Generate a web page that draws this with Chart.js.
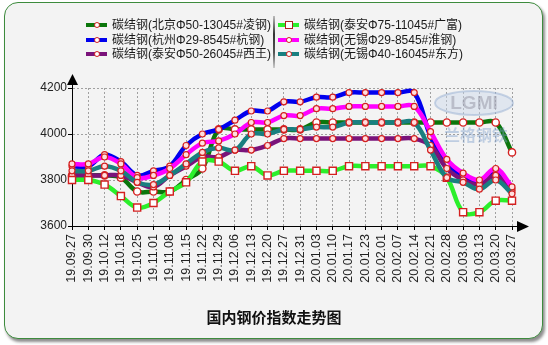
<!DOCTYPE html>
<html>
<head>
<meta charset="utf-8">
<script src="https://cdn.jsdelivr.net/npm/chart.js@4.4.0/dist/chart.umd.min.js"></script>
<style>
  body { margin: 0; background: #fff; font-family: "Liberation Sans", "Noto Sans CJK SC", sans-serif; }
  #card {
    position: absolute; left: 4px; top: 2px; width: 537px; height: 335px;
    border: 1px solid #3d8b3d; border-radius: 14px; background: #f3f3f3;
    box-shadow: 2px 3px 3px rgba(0, 0, 0, .45);
  }
  #chart { position: absolute; left: 0; top: 0; }
  #legend { position: absolute; left: 0; top: 0; font-size: 12px; color: #1a1a1a; }
  .item { position: absolute; height: 14px; line-height: 14px; white-space: nowrap; }
  .item .swatch { position: absolute; left: 0; top: 5px; width: 21px; height: 4px; }
  .item .dot { position: absolute; box-sizing: border-box; border: 1px solid #d42020; background: #fff; }
  .item .txt { position: absolute; left: 26px; top: 0; }
  #sep {
    position: absolute; left: 273px; top: 16px; width: 2px; height: 52px;
    background: linear-gradient(to bottom, #bbb, #333 35%, #555 70%, #ccc);
  }
  #title {
    position: absolute; left: 0; top: 306px; width: 548px; text-align: center;
    font: bold 15px "Noto Sans CJK SC", sans-serif; color: #111;
  }
</style>
</head>
<body>
<div id="card"></div>
<canvas id="chart" width="548" height="345"></canvas>
<div id="legend"><div id="sep"></div></div>
<div id="title">国内钢价指数走势图</div>
<script>
// weekly sampling dates
const dates = [
  '19.09.27', '19.09.30', '19.10.12', '19.10.18', '19.10.25', '19.11.01', '19.11.08',
  '19.11.15', '19.11.22', '19.11.29', '19.12.06', '19.12.13', '19.12.20', '19.12.27',
  '19.12.31', '20.01.03', '20.01.10', '20.01.17', '20.01.23', '20.02.01', '20.02.07',
  '20.02.14', '20.02.21', '20.02.28', '20.03.06', '20.03.13', '20.03.20', '20.03.27'
];

// prices, yuan/ton
const lingGang = [3820, 3820, 3820, 3810, 3750, 3750, 3750, 3800, 3850, 4020, 4020, 4020, 4020, 4020,
                  4020, 4050, 4050, 4050, 4050, 4050, 4050, 4050, 4050, 4050, 4050, 4050, 4050, 3920];
const hangGang = [3860, 3860, 3910, 3880, 3820, 3840, 3860, 3950, 4000, 4020, 4060, 4100, 4100, 4140,
                  4140, 4160, 4160, 4180, 4180, 4180, 4180, 4180, 3990, 3870, 3820, 3790, 3840, 3760];
const xiWang   = [3820, 3820, 3820, 3820, 3790, 3770, 3820, 3860, 3900, 3900, 3930, 3930, 3950, 3980,
                  3980, 3980, 3980, 3980, 3980, 3980, 3980, 3980, 3950, 3850, 3800, 3780, 3820, 3750];
const guangFu  = [3800, 3800, 3780, 3730, 3680, 3700, 3750, 3790, 3880, 3880, 3840, 3860, 3820, 3840,
                  3840, 3840, 3840, 3860, 3860, 3860, 3860, 3860, 3860, 3810, 3660, 3660, 3710, 3710];
const huaiGang = [3870, 3870, 3900, 3870, 3810, 3820, 3850, 3910, 3960, 3970, 4000, 4050, 4050, 4080,
                  4080, 4110, 4110, 4120, 4120, 4120, 4120, 4120, 4010, 3890, 3830, 3800, 3850, 3770];
const dongFang = [3840, 3840, 3860, 3840, 3790, 3780, 3820, 3870, 3920, 3940, 3930, 4000, 4000, 4020,
                  4020, 4030, 4030, 4050, 4050, 4050, 4050, 4050, 3930, 3810, 3790, 3760, 3800, 3740];

const yTicks = [3600, 3800, 4000, 4200];

const series = [
  { name: '碳结钢(北京Φ50-13045#凌钢)', data: lingGang, color: '#0b760b', marker: 'ring' },
  { name: '碳结钢(杭州Φ29-8545#杭钢)', data: hangGang, color: '#0000ee', marker: 'dot' },
  { name: '碳结钢(泰安Φ50-26045#西王)', data: xiWang, color: '#7a137a', marker: 'dot' },
  { name: '碳结钢(泰安Φ75-11045#广富)', data: guangFu, color: '#2bef2b', marker: 'square' },
  { name: '碳结钢(无锡Φ29-8545#淮钢)', data: huaiGang, color: '#ff00ff', marker: 'dot' },
  { name: '碳结钢(无锡Φ40-16045#东方)', data: dongFang, color: '#197f80', marker: 'dot' }
];

const pointLook = {
  ring:   { pointStyle: 'circle', pointRadius: 3.6, pointBackgroundColor: '#fff', pointBorderWidth: 1.4 },
  square: { pointStyle: 'rect', pointRadius: 5, pointBackgroundColor: '#fff', pointBorderWidth: 1.4 },
  dot:    { pointStyle: 'circle', pointRadius: 3, pointBackgroundColor: '#ffdede', pointBorderWidth: 1.2 }
};

// html legend, two columns of three
const legend = document.getElementById('legend');
series.forEach((s, i) => {
  const el = document.createElement('div');
  el.className = 'item';
  el.style.left = (i < 3 ? 86 : 278) + 'px';
  el.style.top = (18 + (i % 3) * 14.5) + 'px';
  const sw = document.createElement('div');
  sw.className = 'swatch';
  sw.style.background = s.color;
  el.appendChild(sw);
  const dot = document.createElement('div');
  dot.className = 'dot';
  if (s.marker === 'square') {
    Object.assign(dot.style, { left: '7px', top: '3px', width: '8px', height: '8px', border: '1.5px solid #b02020' });
  } else {
    Object.assign(dot.style, { left: '8px', top: '4px', width: '6px', height: '6px', borderRadius: '50%' });
  }
  el.appendChild(dot);
  const t = document.createElement('span');
  t.className = 'txt';
  t.textContent = s.name;
  el.appendChild(t);
  legend.appendChild(el);
});

const axisFont = { family: '"Liberation Sans", Arial, sans-serif', size: 12 };

// arrow heads on both axes
const axisArrows = {
  id: 'axisArrows',
  afterDraw(chart) {
    const { ctx, chartArea: a } = chart;
    ctx.save();
    ctx.strokeStyle = '#000';
    ctx.fillStyle = '#000';
    ctx.lineWidth = 1;
    ctx.beginPath();
    ctx.moveTo(a.left + 0.5, a.top);
    ctx.lineTo(a.left + 0.5, a.top - 4);
    ctx.moveTo(a.right, a.bottom + 0.5);
    ctx.lineTo(a.right + 6, a.bottom + 0.5);
    ctx.stroke();
    ctx.beginPath();
    ctx.moveTo(a.left + 0.5, a.top - 14);
    ctx.lineTo(a.left - 5, a.top - 3);
    ctx.lineTo(a.left + 6, a.top - 3);
    ctx.closePath();
    ctx.fill();
    ctx.beginPath();
    ctx.moveTo(a.right + 17, a.bottom + 0.5);
    ctx.lineTo(a.right + 5, a.bottom - 5);
    ctx.lineTo(a.right + 5, a.bottom + 6);
    ctx.closePath();
    ctx.fill();
    ctx.restore();
  }
};

// faint brand mark in the upper right of the plot
const brandMark = {
  id: 'brandMark',
  afterDatasetsDraw(chart) {
    const { ctx, chartArea: a } = chart;
    const cx = a.right - 38, cy = a.top + 15;
    ctx.save();
    ctx.globalAlpha = 0.45;
    ctx.beginPath();
    ctx.ellipse(cx, cy, 39, 12, 0, 0, Math.PI * 2);
    ctx.fillStyle = '#c9d6ea';
    ctx.fill();
    ctx.lineWidth = 2;
    ctx.strokeStyle = '#8fa8cf';
    ctx.stroke();
    ctx.font = 'bold 19px "Liberation Sans", sans-serif';
    ctx.textAlign = 'center';
    ctx.textBaseline = 'middle';
    ctx.fillStyle = '#8a8a9a';
    ctx.fillText('LGMI', cx, cy + 1);
    ctx.font = 'bold 16px "Noto Sans CJK SC", sans-serif';
    ctx.fillStyle = '#7f9fcc';
    ctx.fillText('兰格钢铁', cx + 2, cy + 32);
    ctx.restore();
  }
};

new Chart(document.getElementById('chart'), {
  type: 'line',
  data: {
    labels: dates,
    datasets: series.map((s, i) => Object.assign({
      label: s.name,
      data: s.data,
      borderColor: s.color,
      backgroundColor: s.color,
      borderWidth: 4.5,
      tension: 0.38,
      pointBorderColor: '#d42020',
      pointHoverRadius: 3,
      order: series.length - i
    }, pointLook[s.marker]))
  },
  options: {
    responsive: false,
    animation: false,
    devicePixelRatio: 1,
    layout: { padding: { top: 88, right: 36, bottom: 59, left: 0 } },
    plugins: {
      legend: { display: false },
      tooltip: { enabled: false }
    },
    scales: {
      x: {
        offset: false,
        grid: { color: '#a0a0a0', tickColor: '#000', tickLength: 4 },
        border: { color: '#000', width: 1, dash: [2, 2] },
        ticks: { autoSkip: false, minRotation: 90, maxRotation: 90, font: { family: axisFont.family, size: 12.5 }, color: '#222', padding: 4 },
        afterFit(s) { s.height = 60; }
      },
      y: {
        min: yTicks[0],
        max: yTicks[yTicks.length - 1],
        afterBuildTicks(s) { s.ticks = yTicks.map(v => ({ value: v })); },
        grid: { color: '#a0a0a0', tickColor: '#000', tickLength: 4 },
        border: { color: '#000', width: 1, dash: [2, 2] },
        ticks: { font: axisFont, color: '#222', padding: 1, callback: v => String(v) },
        afterFit(s) { s.width = 72; }
      }
    }
  },
  plugins: [brandMark, axisArrows]
});
</script>
</body>
</html>
